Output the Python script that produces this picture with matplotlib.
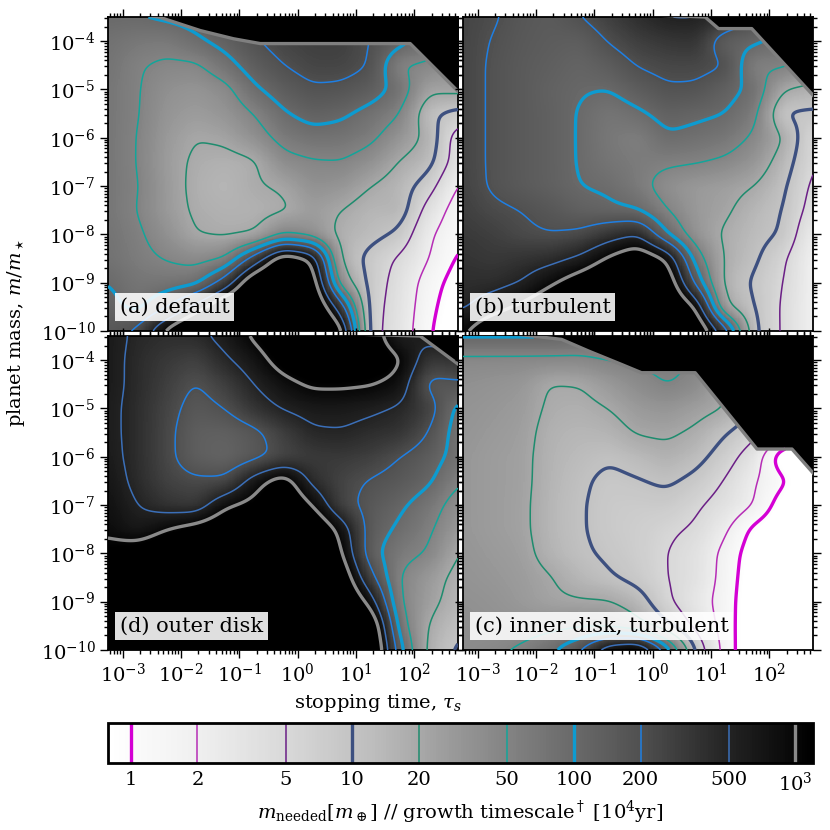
import numpy as np
import matplotlib.pyplot as plt
from matplotlib.colors import Normalize
from matplotlib.ticker import FixedLocator

plt.rcParams['font.family'] = 'DejaVu Serif'
plt.rcParams['mathtext.fontset'] = 'dejavuserif'

# grid nodes (log10 stopping time, log10 planet mass)
TAU = np.arange(-3.25, 2.76, 0.5)
MASS = np.arange(-3.5, -10.01, -0.5)  # rows listed from top to bottom

# log10 of m_needed / growth timescale at the nodes, one grid per panel
log_t_a = [
    [2.00, 2.00, 2.05, 2.10, 2.20, 2.30, 2.40, 2.45, 2.45, 2.30, 2.00, 1.80, 1.50],
    [1.90, 1.82, 1.80, 1.95, 2.10, 2.28, 2.40, 2.45, 2.45, 2.30, 2.10, 1.90, 1.60],
    [1.88, 1.72, 1.65, 1.65, 1.88, 2.15, 2.30, 2.40, 2.40, 2.30, 1.68, 1.65, 1.50],
    [1.85, 1.72, 1.55, 1.50, 1.60, 1.95, 2.15, 2.27, 2.25, 2.15, 1.90, 1.35, 1.40],
    [1.85, 1.72, 1.50, 1.42, 1.50, 1.70, 1.97, 2.10, 2.05, 1.90, 1.72, 1.05, 0.90],
    [1.85, 1.70, 1.45, 1.30, 1.35, 1.55, 1.80, 1.90, 1.88, 1.77, 1.50, 1.22, 0.50],
    [1.85, 1.70, 1.42, 1.25, 1.20, 1.25, 1.60, 1.67, 1.69, 1.55, 1.28, 1.12, 0.50],
    [1.85, 1.72, 1.45, 1.22, 1.15, 1.27, 1.33, 1.55, 1.50, 1.30, 1.15, 0.85, 0.25],
    [1.85, 1.70, 1.45, 1.25, 1.20, 1.20, 1.25, 1.42, 1.30, 1.15, 1.18, 0.55, 0.12],
    [1.88, 1.75, 1.55, 1.30, 1.25, 1.28, 1.70, 1.55, 1.20, 1.10, 0.95, 0.35, 0.06],
    [1.90, 1.78, 1.68, 1.60, 1.70, 2.45, 3.30, 3.00, 1.22, 0.90, 0.65, 0.30, -0.05],
    [2.00, 1.85, 1.85, 1.90, 2.45, 3.40, 3.60, 3.30, 1.50, 0.90, 0.55, 0.15, -0.15],
    [2.10, 1.90, 2.25, 2.80, 3.40, 3.70, 3.80, 3.50, 2.50, 0.85, 0.52, 0.10, -0.25],
    [2.20, 2.35, 3.10, 3.60, 3.80, 3.90, 3.90, 3.70, 3.20, 0.82, 0.50, 0.05, -0.35],
]
log_t_b = [
    [2.40, 2.33, 2.22, 2.17, 2.30, 2.45, 2.60, 2.72, 2.72, 2.60, 2.30, 2.00, 1.80],
    [2.40, 2.29, 2.20, 2.15, 2.12, 2.32, 2.45, 2.52, 2.55, 2.10, 2.05, 1.90, 1.70],
    [2.40, 2.27, 2.18, 2.12, 2.05, 2.15, 2.32, 2.38, 2.38, 2.32, 1.72, 1.75, 1.60],
    [2.40, 2.27, 2.18, 2.08, 2.02, 2.00, 2.15, 2.27, 2.26, 2.10, 1.93, 1.30, 1.20],
    [2.40, 2.27, 2.18, 2.10, 1.985, 1.85, 1.95, 2.10, 2.05, 2.00, 1.80, 0.95, 0.95],
    [2.40, 2.27, 2.18, 2.10, 1.985, 1.82, 1.75, 1.97, 1.92, 1.85, 1.65, 1.30, 0.70],
    [2.40, 2.27, 2.18, 2.10, 1.985, 1.86, 1.79, 1.75, 1.72, 1.65, 1.50, 1.15, 0.70],
    [2.42, 2.27, 2.18, 2.10, 2.00, 1.96, 1.80, 1.55, 1.45, 1.40, 1.30, 1.05, 0.62],
    [2.45, 2.35, 2.30, 2.22, 2.10, 2.05, 2.00, 1.70, 1.45, 1.35, 1.15, 1.00, 0.55],
    [2.50, 2.45, 2.35, 2.30, 2.35, 2.55, 2.70, 2.00, 1.50, 1.25, 1.10, 0.97, 0.35],
    [2.55, 2.50, 2.55, 2.60, 2.75, 3.05, 3.30, 3.00, 1.85, 1.25, 1.05, 0.75, 0.28],
    [2.60, 2.60, 2.70, 2.95, 3.20, 3.40, 3.50, 3.30, 2.20, 1.20, 0.95, 0.70, 0.28],
    [2.65, 2.85, 3.05, 3.30, 3.50, 3.60, 3.60, 3.50, 3.00, 1.32, 1.00, 0.65, 0.28],
    [2.95, 3.30, 3.50, 3.60, 3.70, 3.80, 3.80, 3.70, 3.40, 2.50, 1.02, 0.65, 0.28],
]
log_t_d = [
    [2.80, 2.65, 2.60, 2.62, 2.80, 3.05, 3.30, 3.40, 3.40, 3.20, 2.72, 2.80, 3.00],
    [2.80, 2.62, 2.50, 2.42, 2.65, 2.85, 3.15, 3.30, 3.30, 3.25, 3.05, 2.50, 2.55],
    [2.80, 2.62, 2.45, 2.28, 2.45, 2.70, 2.90, 3.05, 3.05, 3.02, 2.90, 2.20, 2.25],
    [2.78, 2.60, 2.40, 2.20, 2.30, 2.55, 2.72, 2.80, 2.80, 2.75, 2.66, 2.45, 1.90],
    [2.78, 2.60, 2.38, 2.12, 2.10, 2.22, 2.45, 2.66, 2.68, 2.60, 2.55, 2.30, 1.85],
    [2.80, 2.60, 2.38, 2.12, 2.05, 2.20, 2.38, 2.48, 2.50, 2.45, 2.30, 2.15, 1.88],
    [2.85, 2.62, 2.42, 2.35, 2.35, 2.85, 3.20, 2.60, 2.40, 2.28, 2.20, 2.05, 1.72],
    [2.90, 2.70, 2.55, 2.50, 2.95, 3.10, 3.40, 3.00, 2.40, 2.20, 2.05, 1.85, 1.55],
    [2.95, 2.80, 3.00, 3.15, 3.30, 3.50, 3.60, 3.40, 2.90, 2.15, 1.95, 1.75, 1.45],
    [3.10, 3.20, 3.30, 3.40, 3.50, 3.60, 3.70, 3.60, 3.05, 2.10, 1.80, 1.68, 1.28],
    [3.30, 3.40, 3.50, 3.60, 3.70, 3.80, 3.80, 3.70, 3.30, 2.40, 1.68, 1.45, 1.20],
    [3.40, 3.50, 3.60, 3.70, 3.80, 3.80, 3.80, 3.80, 3.50, 2.90, 1.70, 1.40, 1.15],
    [3.50, 3.60, 3.70, 3.80, 3.80, 3.80, 3.80, 3.80, 3.60, 3.45, 1.85, 1.27, 1.05],
    [3.60, 3.70, 3.80, 3.80, 3.80, 3.80, 3.80, 3.80, 3.70, 3.60, 2.10, 1.20, 0.95],
]
log_t_c = [
    [2.05, 2.05, 2.05, 2.05, 2.00, 2.00, 2.00, 2.00, 2.00, 1.80, 1.50, 1.00, 0.50],
    [1.62, 1.62, 1.62, 1.62, 1.62, 1.70, 1.75, 1.75, 1.70, 1.50, 1.20, 0.80, 0.40],
    [1.55, 1.52, 1.48, 1.28, 1.30, 1.45, 1.60, 1.72, 1.62, 1.30, 1.00, 0.60, 0.30],
    [1.52, 1.48, 1.43, 1.25, 1.22, 1.30, 1.45, 1.50, 1.40, 1.30, 1.00, 0.60, 0.30],
    [1.50, 1.45, 1.40, 1.20, 1.15, 1.18, 1.33, 1.35, 1.25, 1.02, 0.80, 0.50, 0.20],
    [1.48, 1.42, 1.38, 1.18, 1.10, 1.03, 1.12, 1.22, 1.10, 0.85, 0.50, -0.30, -0.30],
    [1.48, 1.42, 1.38, 1.17, 1.05, 0.93, 0.98, 1.05, 0.92, 0.68, 0.32, 0.05, -0.30],
    [1.48, 1.42, 1.37, 1.15, 1.03, 0.90, 0.88, 0.90, 0.75, 0.55, 0.30, -0.20, -0.40],
    [1.48, 1.42, 1.37, 1.15, 1.03, 0.90, 0.85, 0.75, 0.66, 0.35, -0.10, -0.30, -0.40],
    [1.50, 1.45, 1.40, 1.18, 1.05, 0.95, 0.85, 0.70, 0.55, 0.20, -0.20, -0.35, -0.45],
    [1.52, 1.48, 1.43, 1.32, 1.15, 1.03, 0.90, 0.70, 0.55, 0.18, -0.25, -0.40, -0.50],
    [1.55, 1.52, 1.45, 1.35, 1.32, 1.32, 1.15, 0.75, 0.45, 0.16, -0.30, -0.40, -0.50],
    [1.58, 1.55, 1.55, 1.60, 1.65, 1.60, 1.40, 1.05, 0.60, 0.15, -0.30, -0.40, -0.50],
    [1.60, 1.65, 1.75, 1.95, 2.30, 3.00, 3.20, 2.20, 0.95, 0.15, -0.30, -0.40, -0.50],
]

# upper edge of the valid region (black above it)
edge_tau_a = [-3.5, -2.38, -1.67, -1.10, -0.64, 1.93, 2.85]
edge_mass_a = [-3.30, -3.50, -3.78, -3.95, -4.05, -4.05, -5.16]
edge_tau_b = [-3.5, 0.90, 1.13, 1.70, 2.85]
edge_mass_b = [-3.30, -3.50, -3.74, -3.74, -5.25]
edge_tau_d = [-3.5, 2.10, 2.85]
edge_mass_d = [-3.30, -3.50, -4.17]
edge_tau_c = [-3.5, -1.56, -1.10, -0.53, -0.19, 0.73, 1.79, 2.39, 2.85]
edge_mass_c = [-3.30, -3.57, -3.81, -4.09, -4.26, -4.26, -5.84, -5.84, -6.47]

panel_names = ['(a) default', '(b) turbulent', '(d) outer disk', '(c) inner disk, turbulent']

levels = [1, 2, 5, 10, 20, 50, 100, 200, 500, 1000]
level_labels = ['1', '2', '5', '10', '20', '50', '100', '200', '500', '$10^3$']
level_colors = ['#d400d4', '#b62db6', '#6b1f86', '#3d5080', '#1e8c6e',
                '#13a59a', '#0d9bd0', '#1f7fe3', '#3b6fb8', '#8a8a8a']
level_widths = [2.4, 1.1, 1.1, 2.4, 1.1, 1.1, 2.4, 1.1, 1.1, 2.4]
log_levels = np.log10(levels)

XF = np.linspace(-3.25, 2.75, 301)
YF = np.linspace(-10, -3.5, 326)


def blur(z, s):
    r = int(3 * s)
    k = np.exp(-0.5 * (np.arange(-r, r + 1) / s) ** 2)
    k /= k.sum()
    zp = np.pad(z, ((r, r), (0, 0)), mode='edge')
    z = np.array([np.convolve(zp[:, j], k, mode='valid') for j in range(z.shape[1])]).T
    zp = np.pad(z, ((0, 0), (r, r)), mode='edge')
    z = np.array([np.convolve(zp[i], k, mode='valid') for i in range(z.shape[0])])
    return z


def fine_field(grid):
    g = np.array(grid)[::-1]
    ys = MASS[::-1]
    rows = np.array([np.interp(XF, TAU, r) for r in g])
    f = np.array([np.interp(YF, ys, rows[:, j]) for j in range(len(XF))]).T
    return blur(f, 6)


cmap = plt.get_cmap('Greys').copy()
cmap.set_bad('black')
cmap.set_over('black')
cmap.set_under('white')
norm = Normalize(vmin=np.log10(0.79), vmax=np.log10(1200))

fig = plt.figure(figsize=(8.3, 8.3), dpi=100)
W, H = 830.0, 830.0
boxes = [(108, 17, 458, 331), (463, 17, 813, 331), (108, 336, 458, 650), (463, 336, 813, 650)]
grids = [log_t_a, log_t_b, log_t_d, log_t_c]
edges = [(edge_tau_a, edge_mass_a), (edge_tau_b, edge_mass_b),
         (edge_tau_d, edge_mass_d), (edge_tau_c, edge_mass_c)]

xminor = [np.log10(k) + n for n in range(-4, 3) for k in range(2, 10)]
xminor = [v for v in xminor if -3.25 < v < 2.75]
yminor = [np.log10(k) + n for n in range(-10, -3) for k in range(2, 10)]
yminor = [v for v in yminor if -10 < v < -3.5]

im = None
for i, (box, grid, (ex, ey), name) in enumerate(zip(boxes, grids, edges, panel_names)):
    x0, y0, x1, y1 = box
    ax = fig.add_axes([x0 / W, 1 - y1 / H, (x1 - x0) / W, (y1 - y0) / H])
    ax.set_facecolor('black')
    z = fine_field(grid)
    yb = np.interp(XF, ex, ey)
    zm = np.ma.masked_where(YF[:, None] > yb[None, :], z)
    im = ax.imshow(zm, extent=(XF[0], XF[-1], YF[0], YF[-1]), origin='lower',
                   aspect='auto', cmap=cmap, norm=norm, interpolation='nearest')
    ax.contour(XF, YF, zm, levels=log_levels, colors=level_colors,
               linewidths=level_widths, zorder=3)
    ax.plot(ex, ey, color='#7f7f7f', lw=2.4, zorder=4)
    ax.set_xlim(-3.25, 2.75)
    ax.set_ylim(-10, -3.5)

    ax.set_xticks(range(-3, 3))
    ax.xaxis.set_minor_locator(FixedLocator(xminor))
    ax.set_yticks(range(-10, -3))
    ax.yaxis.set_minor_locator(FixedLocator(yminor))
    if i >= 2:
        ax.set_xticklabels(['$10^{%d}$' % v for v in range(-3, 3)])
    else:
        ax.set_xticklabels([])
    if i % 2 == 0:
        ax.set_yticklabels(['$10^{%d}$' % v for v in range(-10, -3)])
    else:
        ax.set_yticklabels([])
    ax.tick_params(which='both', direction='out', top=True, right=True,
                   labelsize=14, width=1.0, pad=3)
    ax.tick_params(which='major', length=6)
    ax.tick_params(which='minor', length=3)
    for sp in ax.spines.values():
        sp.set_linewidth(1.3)

    ax.text(0.034, 0.045, name, transform=ax.transAxes, fontsize=15,
            ha='left', va='bottom', zorder=6,
            bbox=dict(boxstyle='square,pad=0.22', fc='white', ec='none', alpha=0.88))

fig.text(378 / W, 1 - 703 / H, r'stopping time, $\tau_s$', ha='center', va='center', fontsize=14)
fig.text(16 / W, 1 - 333 / H, r'planet mass, $m/m_\star$', ha='center', va='center',
         rotation=90, fontsize=14)

cax = fig.add_axes([108 / W, 1 - 763 / H, 705 / W, 40 / H])
cb = fig.colorbar(im, cax=cax, orientation='horizontal', extend='neither')
cb.set_ticks(log_levels)
cb.set_ticklabels(level_labels)
cb.ax.tick_params(length=0, labelsize=14, pad=6)
cb.outline.set_linewidth(2.0)
cb.add_lines(log_levels, level_colors, level_widths)
fig.text(460 / W, 1 - 812 / H,
         r'$m_{\mathrm{needed}}[m_\oplus]$ // growth timescale$^\dagger$ [$10^4$yr]',
         ha='center', va='center', fontsize=14)

fig.savefig('out.png', dpi=100)
